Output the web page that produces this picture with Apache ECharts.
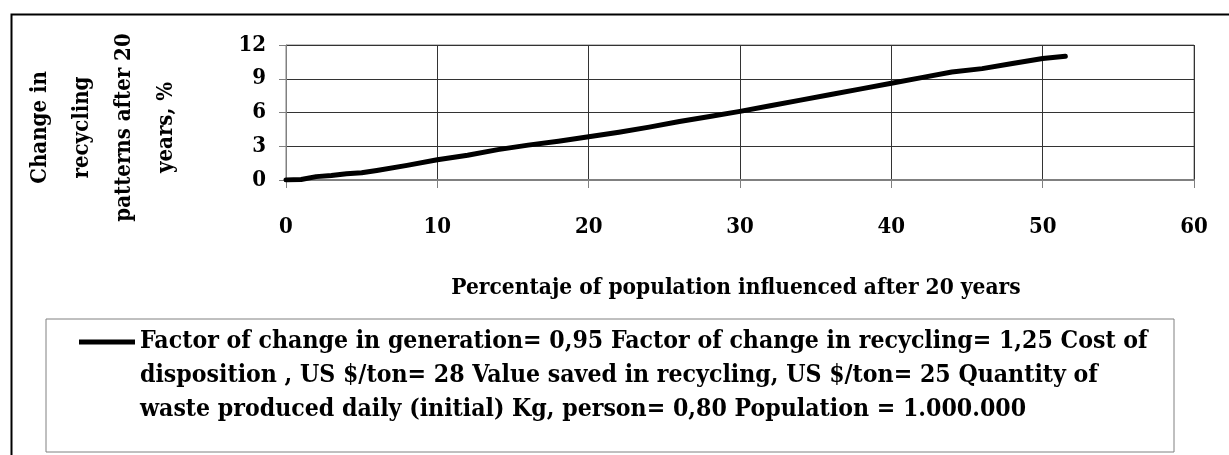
<!DOCTYPE html>
<html>
<head>
<meta charset="utf-8">
<script src="https://cdn.jsdelivr.net/npm/echarts@6/dist/echarts.min.js"></script>
<style>
  html, body { margin: 0; padding: 0; background: #fff; }
  #main { width: 1229px; height: 455px; }
</style>
</head>
<body>
<div id="main"></div>
<script>
  // Percentaje of population influenced after 20 years (x) vs change in recycling patterns, % (y)
  var xData = [0, 1, 2, 3, 4, 5, 6, 8, 10, 12, 14, 16, 18, 20, 22, 24, 26, 28, 30, 32, 34, 36, 38, 40, 42, 44, 46, 48, 50, 51.5];
  var yData = [0, 0.05, 0.3, 0.4, 0.55, 0.65, 0.85, 1.3, 1.8, 2.2, 2.7, 3.1, 3.45, 3.85, 4.25, 4.7, 5.2, 5.65, 6.1, 6.6, 7.1, 7.6, 8.1, 8.6, 9.1, 9.6, 9.9, 10.35, 10.8, 11.0];
  var xTicks = [0, 10, 20, 30, 40, 50, 60];
  var yTicks = [0, 3, 6, 9, 12];

  var seriesName = 'Factor of change in generation= 0,95 Factor of change in recycling= 1,25 Cost of\n' +
    'disposition , US $/ton= 28 Value saved in recycling, US $/ton= 25 Quantity of\n' +
    'waste produced daily (initial) Kg, person= 0,80 Population = 1.000.000';

  var points = xData.map(function (x, i) { return [x, yData[i]]; });
  var font = '"DejaVu Serif Condensed", "DejaVu Serif", serif';

  var myChart = echarts.init(document.getElementById('main'));
  var option = {
    animation: false,
    backgroundColor: '#fff',
    graphic: [{
      type: 'rect',
      left: 9, top: 12,
      shape: { width: 1300, height: 500 },
      style: { fill: null, stroke: '#000', lineWidth: 2 }
    }],
    grid: {
      left: 286, right: 35, top: 45, bottom: 275,
      show: true,
      borderColor: '#808080',
      borderWidth: 1
    },
    legend: {
      left: 46,
      top: 319,
      orient: 'vertical',
      padding: [6, 26, 25, 33],
      borderColor: '#808080',
      borderWidth: 1,
      itemWidth: 56,
      itemHeight: 102,
      itemGap: 7,
      icon: 'path://M0,0L0,0M0,14.5L56,14.5L56,19.5L0,19.5ZM0,102L0,102',
      textStyle: {
        fontFamily: font,
        fontWeight: 'bold',
        fontSize: 24.6,
        lineHeight: 34,
        color: '#000',
        width: 1008,
        overflow: 'none'
      },
      data: [seriesName]
    },
    xAxis: {
      type: 'value',
      min: xTicks[0],
      max: xTicks[xTicks.length - 1],
      interval: 10,
      name: 'Percentaje of population influenced after 20 years',
      nameLocation: 'middle',
      nameGap: 97,
      nameTextStyle: { fontFamily: font, fontWeight: 'bold', fontSize: 22.5, color: '#000', padding: [0, 8, 0, 0] },
      axisLine: { lineStyle: { color: '#808080', width: 2 } },
      axisTick: { show: true, length: 8, lineStyle: { color: '#808080' } },
      axisLabel: { margin: 36, fontFamily: font, fontWeight: 'bold', fontSize: 22, color: '#000' },
      splitLine: { show: true, lineStyle: { color: '#333', width: 1 } }
    },
    yAxis: {
      type: 'value',
      min: yTicks[0],
      max: yTicks[yTicks.length - 1],
      interval: 3,
      name: 'Change in\nrecycling\npatterns after 20\nyears, %',
      nameLocation: 'middle',
      nameRotate: 90,
      nameGap: 99,
      nameTextStyle: { fontFamily: font, fontWeight: 'bold', fontSize: 22, lineHeight: 42, color: '#000', padding: [0, 30, 0, 0] },
      axisLine: { show: true, lineStyle: { color: '#808080', width: 1 } },
      axisTick: { show: true, length: 7, lineStyle: { color: '#808080' } },
      axisLabel: { margin: 20, fontFamily: font, fontWeight: 'bold', fontSize: 22, color: '#000' },
      splitLine: { show: true, lineStyle: { color: '#333', width: 1 } }
    },
    series: [{
      name: seriesName,
      type: 'line',
      data: points,
      showSymbol: false,
      symbol: 'none',
      color: '#000',
      lineStyle: { color: '#000', width: 5, cap: 'round', join: 'round' }
    }]
  };
  myChart.setOption(option);
</script>
</body>
</html>
